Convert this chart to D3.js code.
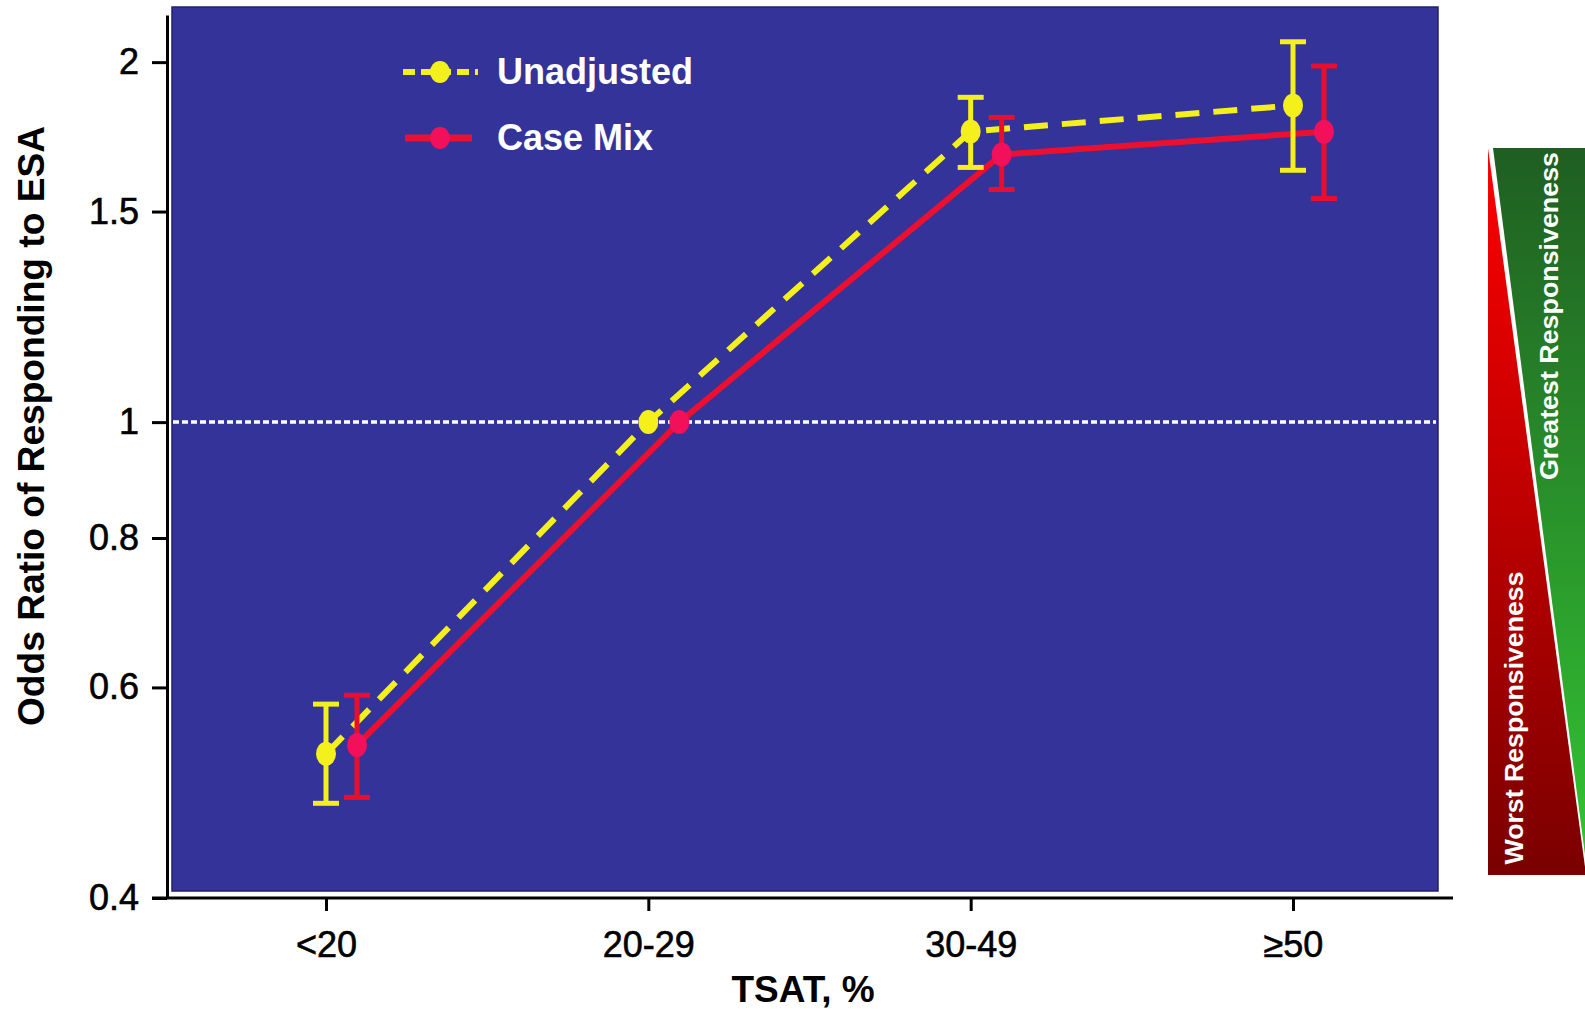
<!DOCTYPE html>
<html>
<head>
<meta charset="utf-8">
<script src="https://cdn.jsdelivr.net/npm/d3@7"></script>
<style>
  html, body { margin: 0; padding: 0; background: #ffffff; }
  svg { display: block; }
  text { font-family: "Liberation Sans", Arial, Helvetica, sans-serif; }
</style>
</head>
<body>
<svg id="chart" width="1585" height="1009"></svg>
<script>
// ---- data ----
const categories = ["<20", "20-29", "30-49", "\u226550"];
const unadjusted    = [0.528, 1.0, 1.750, 1.840];
const unadjustedLow = [0.480, 1.0, 1.633, 1.624];
const unadjustedHigh= [0.581, 1.0, 1.869, 2.080];
const caseMix       = [0.537, 1.0, 1.674, 1.749];
const caseMixLow    = [0.4855, 1.0, 1.565, 1.538];
const caseMixHigh   = [0.591, 1.0, 1.798, 1.985];
const yTicks = [0.4, 0.6, 0.8, 1, 1.5, 2];
const seriesNames = ["Unadjusted", "Case Mix"];
const xTitle = "TSAT, %";
const yTitle = "Odds Ratio of Responding to ESA";
const sideLabels = ["Greatest Responsiveness", "Worst Responsiveness"];

// ---- layout ----
const svg = d3.select("#chart");
const yellow = "#f4f01c", redLine = "#ec1030", redMark = "#f2105a";
const x = d3.scalePoint().domain(categories).range([326, 1293]);
const y = d3.scaleLog().domain([0.4, 2.19]).range([898, 15]);
const offset = 31;

// plot background
svg.append("rect").attr("x", 172).attr("y", 7).attr("width", 1266).attr("height", 884)
  .attr("fill", "#333399").attr("stroke", "#22226e").attr("stroke-width", 1.5);

// reference line at 1
svg.append("line").attr("x1", 173).attr("x2", 1436).attr("y1", y(1)).attr("y2", y(1))
  .attr("stroke", "#ffffff").attr("stroke-width", 3.5).attr("stroke-dasharray", "6,3");

// y axis
const yAxis = d3.axisLeft(y).tickValues(yTicks).tickFormat(d => String(d))
  .tickSize(15).tickSizeOuter(0).tickPadding(13);
const gy = svg.append("g").attr("transform", "translate(167,0)").call(yAxis);
gy.select(".domain").attr("stroke", "#000").attr("stroke-width", 3);
gy.selectAll(".tick line").attr("stroke", "#000").attr("stroke-width", 3);
gy.selectAll(".tick text").attr("font-size", 36).attr("fill", "#000")
  .attr("stroke", "#000").attr("stroke-width", 0.6)
  .style("font-family", "'Liberation Sans', Arial, sans-serif");

// x axis
const xAxis = d3.axisBottom(x).tickSize(13).tickSizeOuter(0).tickPadding(20);
const gx = svg.append("g").attr("transform", "translate(0,898)").call(xAxis);
gx.select(".domain").remove();
gx.selectAll(".tick line").attr("stroke", "#000").attr("stroke-width", 3);
gx.selectAll(".tick text").attr("font-size", 36).attr("fill", "#000")
  .attr("stroke", "#000").attr("stroke-width", 0.6)
  .style("font-family", "'Liberation Sans', Arial, sans-serif");
svg.append("line").attr("x1", 152).attr("x2", 1453).attr("y1", 898).attr("y2", 898)
  .attr("stroke", "#000").attr("stroke-width", 3);

// titles
svg.append("text").attr("transform", "translate(44,426) rotate(-90)")
  .attr("text-anchor", "middle").attr("font-size", 36).attr("font-weight", "bold")
  .attr("textLength", 600).attr("lengthAdjust", "spacingAndGlyphs").text(yTitle);
svg.append("text").attr("x", 803).attr("y", 1002).attr("text-anchor", "middle")
  .attr("font-size", 37).attr("font-weight", "bold").text(xTitle);

// lines
const lineGen = d3.line().x(d => d.x).y(d => d.y);
const uPts = categories.map((c, i) => ({ x: x(c), y: y(unadjusted[i]) }));
const cPts = categories.map((c, i) => ({ x: x(c) + offset, y: y(caseMix[i]) }));
svg.append("path").attr("d", lineGen(uPts)).attr("fill", "none").attr("stroke", yellow)
  .attr("stroke-width", 6).attr("stroke-dasharray", "24,14");
svg.append("path").attr("d", lineGen(cPts)).attr("fill", "none").attr("stroke", redLine)
  .attr("stroke-width", 6);

// error bars
function errBars(lows, highs, dx, color) {
  categories.forEach((c, i) => {
    if (lows[i] === highs[i]) return;
    const cx = x(c) + dx, y1 = y(lows[i]), y2 = y(highs[i]);
    const g = svg.append("g").attr("stroke", color).attr("stroke-width", 5);
    g.append("line").attr("x1", cx).attr("x2", cx).attr("y1", y1).attr("y2", y2);
    g.append("line").attr("x1", cx - 13).attr("x2", cx + 13).attr("y1", y1).attr("y2", y1);
    g.append("line").attr("x1", cx - 13).attr("x2", cx + 13).attr("y1", y2).attr("y2", y2);
  });
}
errBars(unadjustedLow, unadjustedHigh, 0, yellow);
errBars(caseMixLow, caseMixHigh, offset, "#ea0e2c");

// markers
svg.selectAll(".mu").data(uPts).enter().append("ellipse")
  .attr("cx", d => d.x).attr("cy", d => d.y).attr("rx", 10).attr("ry", 12).attr("fill", yellow);
svg.selectAll(".mc").data(cPts).enter().append("ellipse")
  .attr("cx", d => d.x).attr("cy", d => d.y).attr("rx", 10).attr("ry", 12).attr("fill", redMark);

// legend
const lg = svg.append("g");
lg.append("line").attr("x1", 403).attr("x2", 478).attr("y1", 72).attr("y2", 72)
  .attr("stroke", yellow).attr("stroke-width", 6).attr("stroke-dasharray", "12,6,30,6,12,6,5");
lg.append("ellipse").attr("cx", 440).attr("cy", 72).attr("rx", 10).attr("ry", 11).attr("fill", yellow);
lg.append("line").attr("x1", 405).attr("x2", 472).attr("y1", 138).attr("y2", 138)
  .attr("stroke", redLine).attr("stroke-width", 7);
lg.append("ellipse").attr("cx", 440).attr("cy", 138).attr("rx", 10).attr("ry", 11).attr("fill", redMark);
lg.append("text").attr("x", 497).attr("y", 84).attr("font-size", 36).attr("font-weight", "bold")
  .attr("fill", "#ffffff").text(seriesNames[0]);
lg.append("text").attr("x", 497).attr("y", 150).attr("font-size", 36).attr("font-weight", "bold")
  .attr("fill", "#ffffff").text(seriesNames[1]);

// side responsiveness panel
const defs = svg.append("defs");
const gr = defs.append("linearGradient").attr("id", "gRed").attr("x1", 0).attr("y1", 0).attr("x2", 0).attr("y2", 1);
gr.append("stop").attr("offset", "0%").attr("stop-color", "#ff0000");
gr.append("stop").attr("offset", "100%").attr("stop-color", "#7a0000");
const gg = defs.append("linearGradient").attr("id", "gGreen").attr("x1", 0).attr("y1", 0).attr("x2", 0).attr("y2", 1);
gg.append("stop").attr("offset", "0%").attr("stop-color", "#1f5e22");
gg.append("stop").attr("offset", "100%").attr("stop-color", "#33c433");
const L = 1488, R = 1585, T = 148, B = 875;
svg.append("polygon").attr("points", `${L},${T} ${L},${B} ${R},${B} ${R},${B - 8}`)
  .attr("fill", "url(#gRed)");
svg.append("polygon").attr("points", `${L + 5},${T} ${R},${T} ${R},${B - 20}`)
  .attr("fill", "url(#gGreen)");
svg.append("text").attr("transform", "translate(1558,316) rotate(-90)")
  .attr("text-anchor", "middle").attr("font-size", 26).attr("font-weight", "bold")
  .attr("fill", "#ffffff").attr("textLength", 328).attr("lengthAdjust", "spacingAndGlyphs")
  .text(sideLabels[0]);
svg.append("text").attr("transform", "translate(1523,718) rotate(-90)")
  .attr("text-anchor", "middle").attr("font-size", 26).attr("font-weight", "bold")
  .attr("fill", "#ffffff").attr("textLength", 293).attr("lengthAdjust", "spacingAndGlyphs")
  .text(sideLabels[1]);
</script>
</body>
</html>
